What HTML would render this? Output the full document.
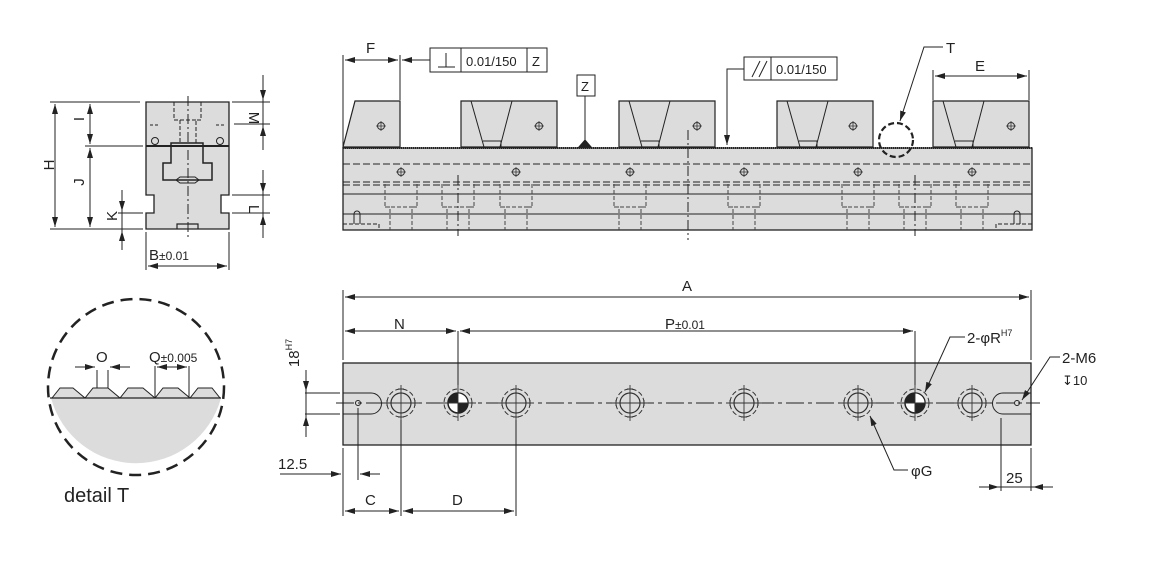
<!DOCTYPE html>
<html><head><meta charset="utf-8"><style>
html,body{margin:0;padding:0;background:#fff}
svg{display:block}
text{font-family:"Liberation Sans",sans-serif;fill:#222}
</style></head><body>
<svg width="1156" height="566" viewBox="0 0 1156 566" xmlns="http://www.w3.org/2000/svg">
<defs>
<marker id="a" viewBox="0 0 10 6" refX="10" refY="3" markerWidth="10" markerHeight="6" orient="auto-start-reverse" markerUnits="userSpaceOnUse"><path d="M0,0L10,3L0,6z" fill="#222"/></marker>
<g id="hole">
<circle r="10" fill="none" stroke="#333" stroke-width="1.2"/>
<circle r="14" fill="none" stroke="#333" stroke-width="1" stroke-dasharray="5,2.5"/>
<path d="M-18,0H18M0,-18V18M-3,-14H3M-3,14H3M-14,-3V3M14,-3V3" stroke="#333" stroke-width="0.9" fill="none"/>
</g>
<g id="ref">
<circle r="10" fill="#fff" stroke="#222" stroke-width="1.5"/>
<path d="M0,0V-10A10,10 0 0 0 -10,0z M0,0V10A10,10 0 0 0 10,0z" fill="#222"/>
<path d="M0,0H10A10,10 0 0 0 0,-10" fill="#fff"/>
<circle r="14" fill="none" stroke="#333" stroke-width="1" stroke-dasharray="5,2.5"/>
<path d="M-18,0H18M0,-18V18" stroke="#333" stroke-width="0.9"/>
</g>
<g id="cb" fill="none" stroke="#444" stroke-width="1" stroke-dasharray="4,2">
<path d="M-16,184V207H-11V230M16,184V207H11V230M-16,207H16"/>
</g>
<g id="sm"><circle r="3.5" fill="none" stroke="#333" stroke-width="1"/><path d="M-5,0H5M0,-5V5" stroke="#333" stroke-width="0.8"/></g>
</defs>

<g stroke="#222" stroke-width="1" fill="none">
<!-- ============ SIDE VIEW ============ -->
<path d="M146,102H229V195H221V213H229V229H146V213H154V195H146Z" fill="#dcdcdc" stroke="#222" stroke-width="1.3"/>
<path d="M146,146H229" stroke-width="2"/>
<path d="M171,143H203V163H212V180H163V163H171Z" stroke-width="1.5"/>
<path d="M176,180L180,177H195L199,180L195,183H180Z"/>
<path d="M177,229V224H198V229" stroke-width="1.2"/>
<path d="M174,102V120H180V143M201,102V120H196V143M174,120H201" stroke-dasharray="4,2"/>
<path d="M188,96V240" stroke-dasharray="10,3,2,3"/>
<path d="M150,125h10M216,125h10" stroke-dasharray="3,2"/>
<circle cx="155" cy="141" r="3.5"/><circle cx="220" cy="141" r="3.5"/>
<!-- dims -->
<path d="M50,102H140M50,229H143M85,146H143M232,102H270M234,124H270M232,195H270M232,213H270"/>
<path d="M55,104V227" marker-start="url(#a)" marker-end="url(#a)"/>
<path d="M90,104V144" marker-start="url(#a)" marker-end="url(#a)"/>
<path d="M90,148V227" marker-start="url(#a)" marker-end="url(#a)"/>
<path d="M122,190V211" marker-end="url(#a)"/><path d="M122,250V231" marker-end="url(#a)"/><path d="M122,211V231"/>
<path d="M118,213H143"/>
<path d="M263,75V100" marker-end="url(#a)"/><path d="M263,150V126" marker-end="url(#a)"/><path d="M263,100V126"/>
<path d="M263,170V193" marker-end="url(#a)"/><path d="M263,238V215" marker-end="url(#a)"/><path d="M263,193V215"/>
<path d="M146,232V270M229,232V270"/>
<path d="M148,266H227" marker-start="url(#a)" marker-end="url(#a)"/>

<!-- ============ FRONT VIEW ============ -->
<rect x="343" y="148" width="689" height="82" fill="#dcdcdc" stroke-width="1.3"/>
<path d="M343,148H1032" stroke-width="2" stroke-dasharray="1,1"/>
<path d="M343,194H1032M343,214H1032"/>
<path d="M343,164H1032M343,182H1032M343,185H1032" stroke-dasharray="7,3"/>
<!-- jaws -->
<path d="M343,147L355,101H400V147Z" fill="#dcdcdc" stroke-width="1.2"/>
<g fill="#dcdcdc" stroke-width="1.2">
<path d="M461,101H557V147H461Z"/><path d="M619,101H715V147H619Z"/><path d="M777,101H873V147H777Z"/><path d="M933,101H1029V147H933Z"/>
</g>
<path d="M471,101L484,147M512,101L500,147M483,141H501V147M629,101L642,147M670,101L658,147M641,141H659V147M787,101L800,147M828,101L816,147M799,141H817V147M943,101L956,147M984,101L972,147M955,141H973V147"/>
<use href="#sm" x="381" y="126"/><use href="#sm" x="539" y="126"/><use href="#sm" x="697" y="126"/><use href="#sm" x="853" y="126"/><use href="#sm" x="1011" y="126"/>
<use href="#sm" x="401" y="172"/><use href="#sm" x="516" y="172"/><use href="#sm" x="630" y="172"/><use href="#sm" x="744" y="172"/><use href="#sm" x="858" y="172"/><use href="#sm" x="972" y="172"/>
<use href="#cb" x="401"/><use href="#cb" x="458"/><use href="#cb" x="516"/><use href="#cb" x="630"/><use href="#cb" x="744"/><use href="#cb" x="858"/><use href="#cb" x="915"/><use href="#cb" x="972"/>
<path d="M458,175V236M688,130V240M915,175V236" stroke-dasharray="10,3,2,3"/>
<path d="M343,224H379V230M1032,224H996V230" stroke-dasharray="4,2"/>
<path d="M354,224V214a3,3 0 0 1 6,0V224M1014,224V214a3,3 0 0 1 6,0V224"/>
<!-- datum Z -->
<path d="M585,140L592,148H578Z" fill="#222"/>
<path d="M585,96V140"/>
<rect x="577" y="75" width="18" height="21" fill="#fff"/>
<!-- F -->
<path d="M343,55V147M400,55V100"/>
<path d="M345,60H398" marker-start="url(#a)" marker-end="url(#a)"/>
<path d="M430,60H402" marker-end="url(#a)"/>
<rect x="430" y="48" width="117" height="24" fill="#fff"/>
<path d="M461,48V72M527,48V72M438,67H455M446,53V67"/>
<!-- parallel -->
<rect x="744" y="57" width="93" height="23" fill="#fff"/>
<path d="M771,57V80M752,77L760,61M759,77L767,61"/>
<path d="M744,69H727V145" marker-end="url(#a)"/>
<!-- T -->
<circle cx="896" cy="140" r="17" stroke-width="2.2" stroke-dasharray="6,3"/>
<path d="M943,47H924L900,121" marker-end="url(#a)"/>
<!-- E -->
<path d="M933,70V100M1029,70V100"/>
<path d="M935,76H1027" marker-start="url(#a)" marker-end="url(#a)"/>

<!-- ============ BOTTOM VIEW ============ -->
<rect x="343" y="363" width="688" height="82" fill="#dcdcdc" stroke-width="1.3"/>
<path d="M336,403H1040" stroke-dasharray="18,4,4,4"/>
<path d="M343,393H371a10,10 0 0 1 0,21H343M1031,393H1003a10,10 0 0 0 0,21H1031"/>
<circle cx="358" cy="403" r="2.5"/><circle cx="1017" cy="403" r="2.5"/>
<use href="#hole" x="401" y="403"/><use href="#hole" x="516" y="403"/><use href="#hole" x="630" y="403"/><use href="#hole" x="744" y="403"/><use href="#hole" x="858" y="403"/><use href="#hole" x="972" y="403"/>
<use href="#ref" x="458" y="403"/><use href="#ref" x="915" y="403"/>
<!-- A,N,P -->
<path d="M343,290V360M1031,290V360M458,331V385M915,331V385"/>
<path d="M345,297H1029" marker-start="url(#a)" marker-end="url(#a)"/>
<path d="M345,331H456" marker-start="url(#a)" marker-end="url(#a)"/>
<path d="M460,331H913" marker-start="url(#a)" marker-end="url(#a)"/>
<!-- 18H7 -->
<path d="M305,393H340M305,414H340"/>
<path d="M306,370V391" marker-end="url(#a)"/><path d="M306,437V416" marker-end="url(#a)"/><path d="M306,391V416"/>
<!-- 12.5 -->
<path d="M343,448V480M358,408V480"/>
<path d="M280,474H341" marker-end="url(#a)"/><path d="M380,474H360" marker-end="url(#a)"/>
<!-- C D -->
<path d="M343,480V516M401,420V516M516,420V516"/>
<path d="M345,511H399" marker-start="url(#a)" marker-end="url(#a)"/>
<path d="M403,511H514" marker-start="url(#a)" marker-end="url(#a)"/>
<!-- 25 -->
<path d="M1001,418V491M1031,448V491"/>
<path d="M979,487H999" marker-end="url(#a)"/><path d="M1053,487H1033" marker-end="url(#a)"/><path d="M999,487H1033"/>
<!-- leaders -->
<path d="M908,470H894L870,416" marker-end="url(#a)"/>
<path d="M965,337H950L925,392" marker-end="url(#a)"/>
<path d="M1060,357H1050L1022,400" marker-end="url(#a)"/>

<!-- ============ DETAIL T ============ -->
<path d="M52,398L60,388H73L85,398L93,388H108L120,398L128,388H143L155,398L163,388H178L190,398L198,388H212L220,398Z" fill="#dcdcdc"/>
<path d="M51,398A88,88 0 0 0 221,398Z" fill="#dcdcdc" stroke="none"/>
<path d="M50,398H221" stroke-width="1.3"/>
<circle cx="136" cy="387" r="88" stroke-width="2.5" stroke-dasharray="12,7"/>
<path d="M97,370V388M108,370V388M155,366V398M189,366V398"/>
<path d="M75,367H95" marker-end="url(#a)"/><path d="M130,367H110" marker-end="url(#a)"/>
<path d="M157,367H187" marker-start="url(#a)" marker-end="url(#a)"/>
</g>

<!-- TEXT -->
<g font-size="15">
<text x="49" y="170" transform="rotate(-90 49 165)" text-anchor="middle">H</text>
<text x="84" y="129" transform="rotate(-90 79 124)" text-anchor="middle">I</text>
<text x="84" y="192" transform="rotate(-90 79 187)" text-anchor="middle">J</text>
<text x="117" y="226" transform="rotate(-90 112 221)" text-anchor="middle">K</text>
<text x="259" y="118" transform="rotate(90 254 113)" text-anchor="middle">M</text>
<text x="259" y="209" transform="rotate(90 254 204)" text-anchor="middle">L</text>
<text x="149" y="260">B<tspan font-size="12">±0.01</tspan></text>
<text x="366" y="53">F</text>
<text x="466" y="66" font-size="13">0.01/150</text>
<text x="532" y="66" font-size="13">Z</text>
<text x="581" y="91" font-size="13">Z</text>
<text x="776" y="74" font-size="13">0.01/150</text>
<text x="946" y="53">T</text>
<text x="975" y="71">E</text>
<text x="682" y="291">A</text>
<text x="394" y="329">N</text>
<text x="665" y="329">P<tspan font-size="12">±0.01</tspan></text>
<text x="300" y="366" transform="rotate(-90 293 360)" text-anchor="middle">18<tspan font-size="9" dy="-7">H7</tspan></text>
<text x="278" y="469">12.5</text>
<text x="365" y="505">C</text>
<text x="452" y="505">D</text>
<text x="1006" y="483">25</text>
<text x="911" y="476">φG</text>
<text x="967" y="343">2-φR<tspan font-size="9" dy="-7">H7</tspan></text>
<text x="1062" y="363">2-M6</text>
<text x="1062" y="385" font-size="13">↧10</text>
<text x="96" y="362">O</text>
<text x="149" y="362">Q<tspan font-size="12">±0.005</tspan></text>
<text x="64" y="502" font-size="20">detail  T</text>
</g>
</svg>
</body></html>
